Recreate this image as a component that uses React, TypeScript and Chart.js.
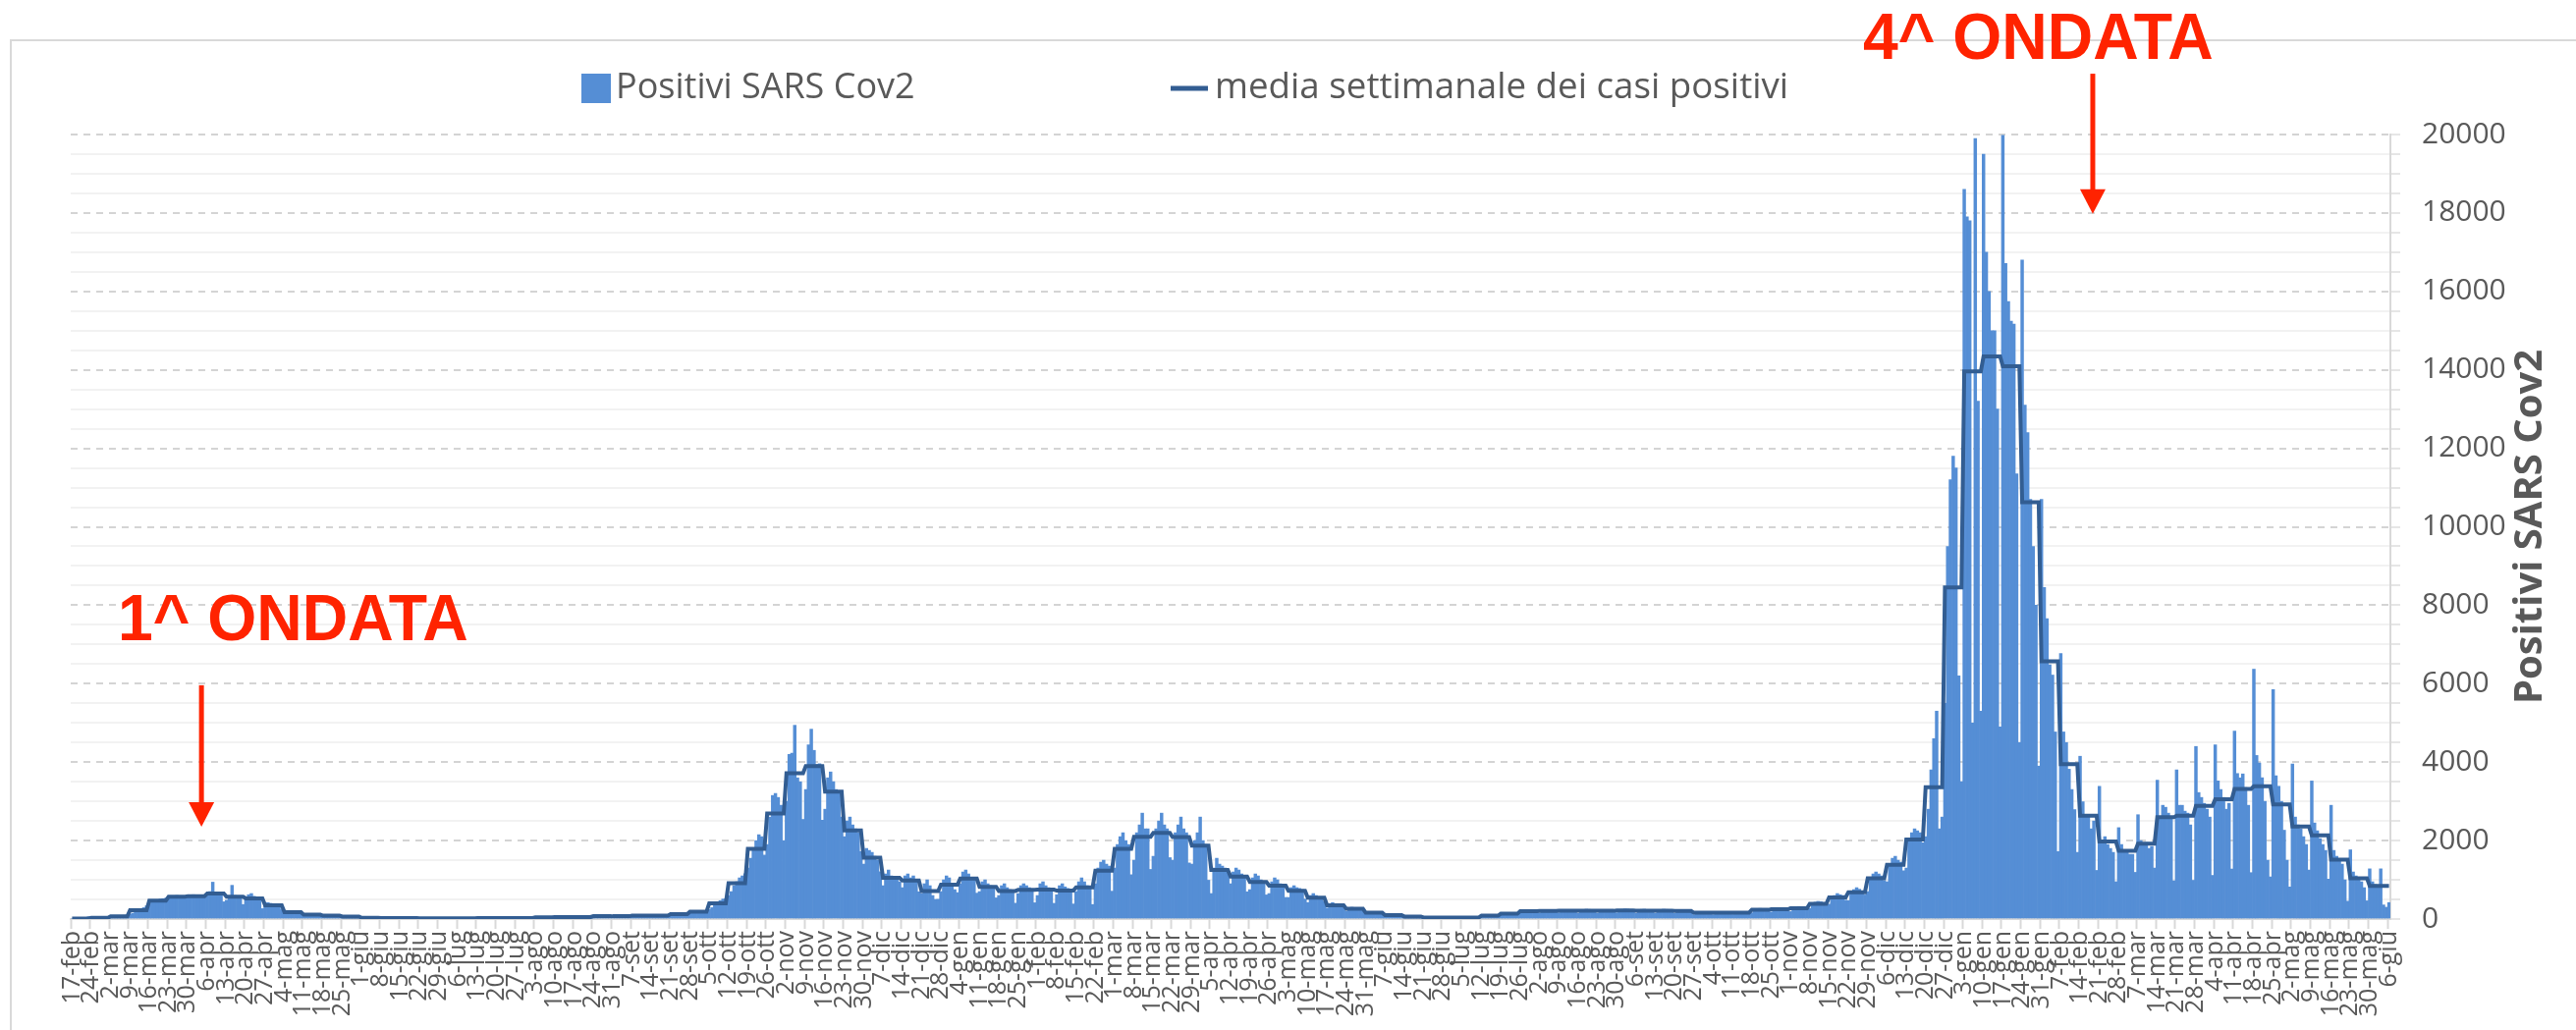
import React, { useEffect, useRef } from 'react';
import { Chart, registerables } from 'chart.js';

Chart.register(...registerables);

// ---- DATA ----
// Weekly tick labels (one every 7 days, Mondays from 17-feb-2020 to 6-giu-2022)
const weekLabels: string[] = [
  '17-feb','24-feb','2-mar','9-mar','16-mar','23-mar','30-mar','6-apr','13-apr','20-apr','27-apr','4-mag','11-mag','18-mag','25-mag','1-giu','8-giu','15-giu','22-giu','29-giu','6-lug','13-lug','20-lug','27-lug','3-ago','10-ago','17-ago','24-ago','31-ago','7-set','14-set','21-set','28-set','5-ott','12-ott','19-ott','26-ott','2-nov','9-nov','16-nov','23-nov','30-nov','7-dic','14-dic','21-dic','28-dic',
  '4-gen','11-gen','18-gen','25-gen','1-feb','8-feb','15-feb','22-feb','1-mar','8-mar','15-mar','22-mar','29-mar','5-apr','12-apr','19-apr','26-apr','3-mag','10-mag','17-mag','24-mag','31-mag','7-giu','14-giu','21-giu','28-giu','5-lug','12-lug','19-lug','26-lug','2-ago','9-ago','16-ago','23-ago','30-ago','6-set','13-set','20-set','27-set','4-ott','11-ott','18-ott','25-ott','1-nov','8-nov','15-nov','22-nov','29-nov','6-dic','13-dic','20-dic','27-dic',
  '3-gen','10-gen','17-gen','24-gen','31-gen','7-feb','14-feb','21-feb','28-feb','7-mar','14-mar','21-mar','28-mar','4-apr','11-apr','18-apr','25-apr','2-mag','9-mag','16-mag','23-mag','30-mag','6-giu'
];

// Daily positives (one row per week, Mon..Sun)
const dailyPositives: number[] = [
  // 2020
  0,0,0,0,5,40,60,
  15,20,25,30,35,40,45,
  40,50,55,70,80,95,100,
  120,150,190,230,260,290,335,
  380,420,450,480,510,520,530,
  530,560,580,600,590,570,560,
  560,600,620,590,610,570,545,
  600,700,940,620,650,600,440,
  480,580,860,600,560,540,370,
  500,620,650,580,560,500,265,
  380,420,400,360,350,300,240,
  200,210,190,180,170,150,125,
  120,130,120,110,105,100,85,
  90,95,90,85,85,80,70,
  70,75,70,65,60,60,55,
  35,35,30,30,30,25,25,
  25,30,25,25,25,20,25,
  20,25,25,20,20,25,20,
  20,20,20,20,20,20,20,
  18,22,20,20,22,20,18,
  20,20,22,18,20,22,18,
  20,22,25,22,22,22,21,
  22,25,22,20,22,24,19,
  22,25,28,26,25,26,23,
  35,40,45,50,50,50,45,
  45,55,50,55,50,50,45,
  45,50,55,50,55,50,45,
  60,75,80,80,80,75,75,
  65,75,75,80,75,70,64,
  75,85,90,90,90,85,80,
  80,90,95,90,95,85,81,
  100,115,125,130,140,135,130,
  140,160,180,195,205,215,200,
  240,290,350,420,470,510,520,
  600,700,850,950,1050,1100,1155,
  1300,1550,1800,2000,2150,2100,1630,
  1900,2600,3150,3200,3100,2900,2000,
  3000,4200,4230,4940,3600,3500,2540,
  3300,4440,4840,4300,3940,3960,2520,
  2800,3600,3750,3500,3300,3200,2600,
  2100,2500,2600,2400,2300,2200,1720,
  1400,1800,1750,1700,1600,1500,1205,
  850,1150,1250,1100,1050,1000,950,
  800,1100,1150,1050,1100,1000,695,
  650,900,1000,850,600,500,505,
  700,1000,1100,1050,850,750,675,
  // 2021
  900,1200,1250,1150,1050,1000,660,
  700,950,1000,900,850,800,540,
  600,850,900,800,750,700,405,
  650,850,900,850,800,750,415,
  600,900,950,850,800,750,400,
  620,850,900,820,780,720,385,
  700,950,1050,950,850,800,370,
  900,1300,1450,1500,1400,1350,710,
  1300,1900,2100,2200,2000,1900,1130,
  1500,2200,2400,2700,2300,2300,1265,
  1600,2300,2500,2700,2400,2300,1565,
  1500,2200,2400,2600,2300,2200,1430,
  1400,2000,2200,2600,2000,1900,990,
  650,1300,1550,1400,1350,1300,1200,
  900,1200,1300,1250,1150,1100,695,
  750,1050,1150,1100,1000,950,615,
  650,950,1050,1000,900,850,550,
  550,800,850,800,780,750,510,
  420,600,650,600,560,540,445,
  280,380,420,380,360,340,290,
  200,280,300,290,270,250,230,
  130,170,180,170,165,160,145,
  80,105,115,110,100,95,95,
  50,70,75,70,65,65,60,
  30,40,45,45,40,40,40,
  30,40,40,40,40,38,38,
  30,40,45,45,40,40,40,
  60,75,85,95,95,95,90,
  110,130,140,145,145,140,135,
  150,200,215,225,220,210,180,
  150,210,230,235,225,215,170,
  160,215,230,235,235,225,170,
  150,220,240,250,245,230,170,
  150,215,235,240,235,225,170,
  160,225,245,255,250,230,175,
  150,220,245,250,240,225,175,
  150,220,240,250,245,230,170,
  145,210,230,240,230,215,165,
  110,165,180,185,180,170,130,
  110,160,180,185,180,175,130,
  115,170,185,190,185,175,135,
  160,240,265,270,260,250,200,
  180,255,280,285,275,265,210,
  190,280,310,320,300,290,235,
  270,380,430,450,440,420,340,
  380,540,600,650,620,600,481,
  470,680,750,800,760,720,615,
  700,1000,1150,1200,1150,1100,980,
  950,1400,1550,1600,1500,1450,1231,
  1300,2000,2200,2300,2250,2200,1946,
  2100,2800,3800,4600,5300,2300,2600,
  5500,9500,11200,11800,11500,6200,3500,
  // 2022
  18600,17900,17800,5000,19900,13200,5300,
  19500,17000,16000,15000,15000,13000,4900,
  19980,16710,15740,15240,15170,11350,4500,
  16800,13100,12400,10700,9500,8000,3900,
  10700,8450,7660,6480,6220,4770,1720,
  6770,4770,4500,3820,3300,2790,1700,
  4150,2990,2660,2600,2300,2500,1240,
  3385,2000,2100,1900,1800,1700,950,
  2330,1900,1700,1750,1650,1650,1190,
  2660,2000,1900,1950,1800,1850,1300,
  3540,2590,2900,2850,2700,2600,975,
  3800,2900,2900,2750,2700,2400,988,
  4400,3225,3100,2950,2800,2600,1113,
  4440,3520,3300,3100,2800,2950,1275,
  4790,3710,3600,3700,3350,2900,1183,
  6370,4170,3980,3600,3000,1500,1075,
  5850,3650,3385,3000,2265,1500,818,
  3950,2600,2400,2300,2100,1900,1249,
  3520,2450,2250,2050,1900,1750,1018,
  2900,1750,1600,1500,1400,1000,455,
  1765,1200,1100,1000,950,800,465,
  1280,950,880,850,1280,360,301,
  420
];

// Weekly mean of positive cases (one value per week)
const weeklyMean: number[] = [
  15,30,70,225,470,570,585,650,570,525,
  350,175,110,85,65,30,25,22,20,20,
  20,22,22,25,45,50,50,75,72,85,
  88,125,185,400,915,1790,2690,3715,3900,3250,
  2260,1565,1050,985,715,875,1030,820,715,745,
  750,725,810,1230,1790,2095,2195,2090,1870,1250,
  1085,945,850,720,545,350,260,160,100,65,
  40,38,40,85,135,200,205,210,215,210,
  220,215,215,205,160,160,165,235,250,275,
  390,553,685,1040,1383,2028,3358,8455,13960,14342,
  14092,10628,6572,3951,2634,1976,1738,1923,2594,2634,
  2884,3055,3319,3385,2924,2357,2134,1515,1040,843,
  843
];

const seriesNames = ['Positivi SARS Cov2', 'media settimanale dei casi positivi'];
const axisTitle = 'Positivi SARS Cov2';

// annotation anchors in data coordinates (day index, value)
const annotations = [
  { text: '1^ ONDATA', textDay: 16.6, textValue: 7100, arrowDay: 46.9, arrowTop: 5960, arrowTip: 2350 },
  { text: '4^ ONDATA', textDay: 649.3, textValue: 21930, arrowDay: 732.6, arrowTop: 21550, arrowTip: 17980 },
];

const MONTHS = ['gen','feb','mar','apr','mag','giu','lug','ago','set','ott','nov','dic'];
const dayCategories: string[] = dailyPositives.map((_, i) => {
  const d = new Date(2020, 1, 17 + i);
  return `${d.getDate()}-${MONTHS[d.getMonth()]}-${d.getFullYear()}`;
});

const BAR_COLOR = '#558ED5';
const LINE_COLOR = '#325D92';
const TEXT_GRAY = '#595959';
const RED = '#FF2300';
const FONT = "'Open Sans', sans-serif";

const overlayPlugin = {
  id: 'overlay',
  afterDraw(chart: any) {
    const { ctx, chartArea, scales } = chart;
    const xs = scales.x;
    const ys = scales.y;
    ctx.save();

    // legend
    ctx.fillStyle = BAR_COLOR;
    ctx.fillRect(592, 75, 30, 30);
    ctx.fillStyle = TEXT_GRAY;
    ctx.font = `36px ${FONT}`;
    ctx.textAlign = 'left';
    ctx.textBaseline = 'middle';
    ctx.fillText(seriesNames[0], 627, 90);
    ctx.strokeStyle = LINE_COLOR;
    ctx.lineWidth = 5;
    ctx.beginPath();
    ctx.moveTo(1192, 90);
    ctx.lineTo(1230, 90);
    ctx.stroke();
    ctx.save();
    ctx.translate(1237, 90);
    ctx.scale(1.02, 1);
    ctx.fillText(seriesNames[1], 0, 0);
    ctx.restore();

    // y axis title (reads bottom to top)
    ctx.save();
    ctx.translate(chartArea.right + 143, (chartArea.top + chartArea.bottom) / 2);
    ctx.rotate(-Math.PI / 2);
    ctx.font = `bold 40px ${FONT}`;
    ctx.textAlign = 'center';
    ctx.textBaseline = 'middle';
    ctx.fillStyle = TEXT_GRAY;
    ctx.fillText(axisTitle, 0, 0);
    ctx.restore();

    // annotations
    for (const a of annotations) {
      const tx = xs.getPixelForValue(a.textDay);
      const ty = ys.getPixelForValue(a.textValue);
      ctx.save();
      ctx.translate(tx, ty);
      ctx.scale(0.96, 1);
      ctx.font = `bold 67px 'Liberation Sans', Arial, sans-serif`;
      ctx.fillStyle = RED;
      ctx.textAlign = 'left';
      ctx.textBaseline = 'alphabetic';
      ctx.fillText(a.text, 0, 0);
      ctx.restore();

      const ax = xs.getPixelForValue(a.arrowDay);
      const y0 = ys.getPixelForValue(a.arrowTop);
      const y1 = ys.getPixelForValue(a.arrowTip);
      const headH = 25;
      const headW = 13;
      ctx.strokeStyle = RED;
      ctx.fillStyle = RED;
      ctx.lineWidth = 5;
      ctx.beginPath();
      ctx.moveTo(ax, y0);
      ctx.lineTo(ax, y1 - headH + 2);
      ctx.stroke();
      ctx.beginPath();
      ctx.moveTo(ax - headW, y1 - headH);
      ctx.lineTo(ax + headW, y1 - headH);
      ctx.lineTo(ax, y1);
      ctx.closePath();
      ctx.fill();
    }
    ctx.restore();
  },
};

export default function App() {
  const canvasRef = useRef<HTMLCanvasElement | null>(null);

  useEffect(() => {
    const canvas = canvasRef.current;
    if (!canvas) return;
    const lineData = dailyPositives.map((_, i) => weeklyMean[Math.floor(i / 7)]);
    const isMajor = (c: any) => c && c.tick && c.tick.value % 2000 === 0;

    const chart = new Chart(canvas, {
      type: 'bar',
      data: {
        labels: dayCategories,
        datasets: [
          {
            type: 'line',
            label: seriesNames[1],
            data: lineData,
            borderColor: LINE_COLOR,
            borderWidth: 4,
            pointRadius: 0,
            tension: 0,
            fill: false,
            order: 0,
          } as any,
          {
            type: 'bar',
            label: seriesNames[0],
            data: dailyPositives,
            backgroundColor: BAR_COLOR,
            borderWidth: 0,
            barPercentage: 1,
            categoryPercentage: 1,
            order: 1,
          } as any,
        ],
      },
      options: {
        responsive: false,
        animation: false,
        devicePixelRatio: 1,
        layout: { padding: { left: 72, top: 137, right: 0, bottom: 0 } },
        plugins: {
          legend: { display: false },
          tooltip: { enabled: false },
        },
        scales: {
          x: {
            type: 'category',
            offset: true,
            grid: {
              offset: true,
              drawOnChartArea: false,
              drawTicks: true,
              tickLength: 10,
              tickWidth: 2,
              tickColor: (c: any) => (c.index % 7 === 0 ? '#d9d9d9' : 'rgba(0,0,0,0)'),
            },
            border: { display: true, color: '#d9d9d9', width: 2 },
            ticks: {
              autoSkip: false,
              minRotation: 90,
              maxRotation: 90,
              padding: 2,
              color: TEXT_GRAY,
              font: { family: FONT, size: 25 },
              callback: (_v: any, i: number) => (i % 7 === 0 ? weekLabels[i / 7] : ''),
            },
            afterFit: (s: any) => { s.height = 113; },
          } as any,
          y: {
            type: 'linear',
            position: 'right',
            min: 0,
            max: 20000,
            ticks: {
              stepSize: 500,
              autoSkip: false,
              padding: 22,
              color: TEXT_GRAY,
              font: { family: FONT, size: 30 },
              callback: (v: any) => (Number(v) % 2000 === 0 ? String(v) : ''),
            },
            grid: {
              color: (c: any) => (isMajor(c) ? '#d4d4d4' : '#f2f2f2'),
              lineWidth: 2,
              drawTicks: true,
              tickLength: 10,
              tickColor: '#e6e6e6',
              tickBorderDash: [],
            },
            border: {
              display: true,
              color: '#d9d9d9',
              width: 2,
              dash: (c: any) => (isMajor(c) ? [7, 6] : []),
            },
            afterFit: (s: any) => { s.width = 189; },
          } as any,
        },
      },
      plugins: [overlayPlugin],
    });
    return () => chart.destroy();
  }, []);

  return (
    <div style={{ position: 'fixed', left: 0, top: 0, width: '100vw', height: '100vh', overflow: 'hidden', background: '#fff' }}>
      <div style={{ position: 'absolute', left: 10, top: 40, width: 2700, height: 1100, border: '2px solid #d9d9d9', boxSizing: 'border-box' }} />
      <canvas ref={canvasRef} width={2623} height={1049} style={{ position: 'absolute', left: 0, top: 0, width: 2623, height: 1049 }} />
    </div>
  );
}
